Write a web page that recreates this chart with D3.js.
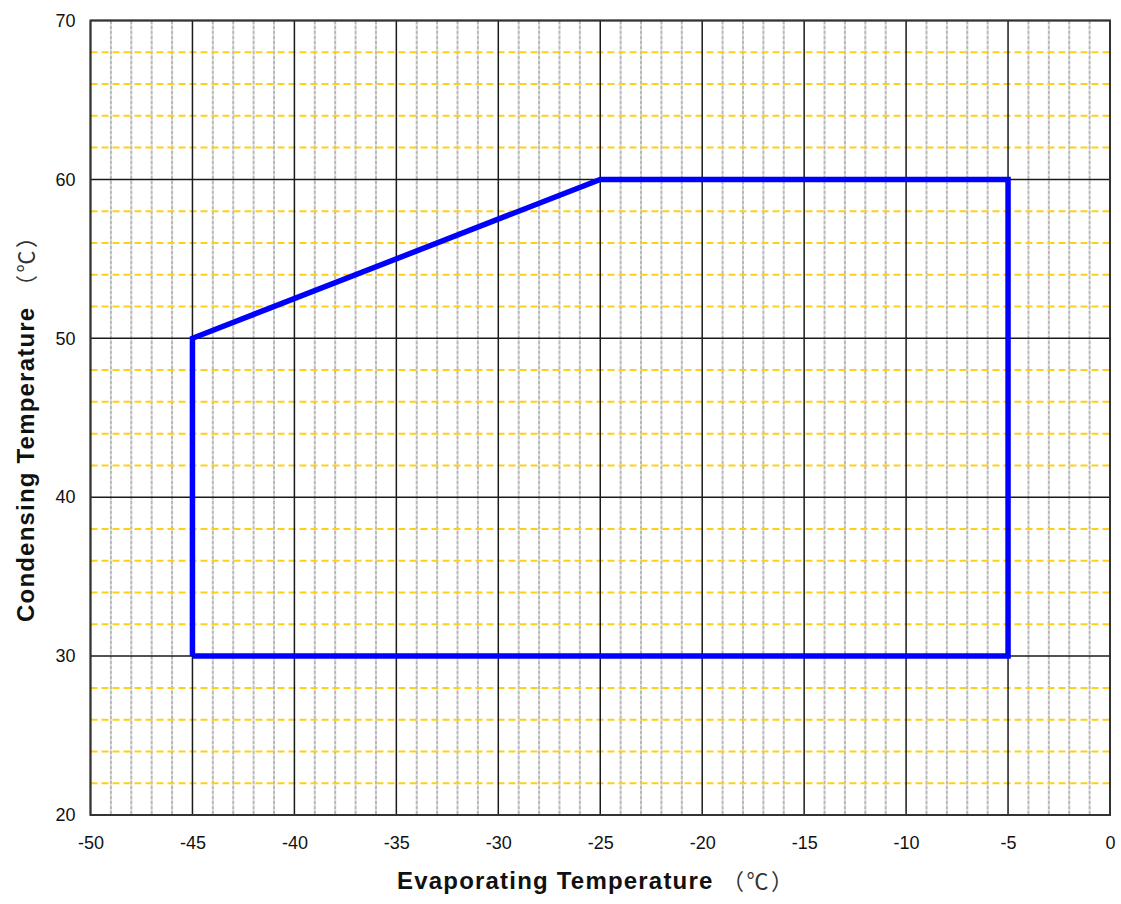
<!DOCTYPE html>
<html>
<head>
<meta charset="utf-8">
<script src="https://cdn.jsdelivr.net/npm/d3@7"></script>
<style>
	body { margin: 0; background: #fff; }
	svg { display: block; }
</style>
</head>
<body>
<div id="chart"><svg width="1121" height="904"></svg></div>
<script>
// operating envelope (evaporating, condensing), closed polygon
var evapTemps = [-45, -45, -25, -5, -5, -45];
var condTemps = [30, 50, 60, 60, 30, 30];

var xTicks = [-50, -45, -40, -35, -30, -25, -20, -15, -10, -5, 0];
var yTicks = [20, 30, 40, 50, 60, 70];
var xMinorTicks = d3.range(-50, 1, 1);
var yMinorTicks = d3.range(20, 71, 2);

var margin = { top: 20.5, left: 90.5, bottom: 89, right: 11 };

var svg = d3.select('#chart > svg');
var width = +svg.attr('width') - margin.left - margin.right;
var height = +svg.attr('height') - margin.top - margin.bottom;

var xScale = d3.scaleLinear()
	.domain([ -50, 0 ])
	.range([ 0, width ]);
var yScale = d3.scaleLinear()
	.domain([ 20, 70 ])
	.range([ height, 0 ]);

var group = svg.append('g')
	.attr('transform', 'translate(' + [ margin.left, margin.top ] + ')');

// minor x grid (grey, every 1 degree)
group.append('g').selectAll('line')
	.data(xMinorTicks.filter(function(d) { return d % 5 !== 0 }))
	.enter().append('line')
	.attr('x1', function(d) { return xScale(d) })
	.attr('x2', function(d) { return xScale(d) })
	.attr('y1', 0)
	.attr('y2', height)
	.attr('stroke', '#b8b8b8')
	.attr('stroke-width', 2)
	.attr('stroke-dasharray', '4,1');

// minor y grid (yellow dashed, every 2 degrees)
group.append('g').selectAll('line')
	.data(yMinorTicks.filter(function(d) { return d % 10 !== 0 }))
	.enter().append('line')
	.attr('x1', 0)
	.attr('x2', width)
	.attr('y1', function(d) { return yScale(d) })
	.attr('y2', function(d) { return yScale(d) })
	.attr('stroke', '#ffd01a')
	.attr('stroke-width', 2)
	.attr('stroke-dasharray', '7,4');

// major grids
group.append('g').selectAll('line')
	.data(xTicks)
	.enter().append('line')
	.attr('x1', function(d) { return xScale(d) })
	.attr('x2', function(d) { return xScale(d) })
	.attr('y1', 0)
	.attr('y2', height)
	.attr('stroke', '#1a1a1a')
	.attr('stroke-width', 1.5);
group.append('g').selectAll('line')
	.data(yTicks)
	.enter().append('line')
	.attr('x1', 0)
	.attr('x2', width)
	.attr('y1', function(d) { return yScale(d) })
	.attr('y2', function(d) { return yScale(d) })
	.attr('stroke', '#1a1a1a')
	.attr('stroke-width', 1.5);

// frame
group.append('rect')
	.attr('width', width)
	.attr('height', height)
	.attr('fill', 'none')
	.attr('stroke', '#333')
	.attr('stroke-width', 2);

// axes (labels only), plain hyphen minus like the original
var plain = function(d) { return String(d) };
var xAxis = group.append('g')
	.attr('transform', 'translate(0,' + height + ')')
	.call(d3.axisBottom(xScale).tickValues(xTicks).tickFormat(plain).tickSize(0).tickPadding(21));
var yAxis = group.append('g')
	.call(d3.axisLeft(yScale).tickValues(yTicks).tickFormat(plain).tickSize(0).tickPadding(15));
[xAxis, yAxis].forEach(function(a) {
	a.select('.domain').remove();
	a.selectAll('text')
		.attr('font-family', 'Arial, "Liberation Sans", sans-serif')
		.attr('font-size', 18)
		.attr('fill', '#111');
});

// envelope
var pts = evapTemps.map(function(d, i) { return [ d, condTemps[i] ] });
group.append('path')
	.datum(pts)
	.attr('d', d3.line()
		.x(function(d) { return xScale(d[0]) })
		.y(function(d) { return yScale(d[1]) }))
	.attr('fill', 'none')
	.attr('stroke', '#0000ff')
	.attr('stroke-width', 5.5)
	.attr('stroke-linejoin', 'miter');

// axis titles
function title(sel, label) {
	sel.append('text')
		.attr('x', 0)
		.attr('y', 0)
		.attr('font-family', 'Arial, "Liberation Sans", sans-serif')
		.attr('font-size', 24)
		.attr('font-weight', 'bold')
		.attr('letter-spacing', 1.2)
		.attr('fill', '#111')
		.text(label);
	sel.append('text')
		.attr('x', 325)
		.attr('y', 0)
		.attr('font-family', '"Noto Sans CJK SC", sans-serif')
		.attr('font-size', 22)
		.attr('textLength', 71)
		.attr('lengthAdjust', 'spacing')
		.attr('fill', '#333')
		.text('（℃）');
}
svg.append('g')
	.attr('transform', 'translate(397,889)')
	.call(title, 'Evaporating Temperature');
svg.append('g')
	.attr('transform', 'translate(34,622) rotate(-90)')
	.call(title, 'Condensing Temperature');
</script>
</body>
</html>
